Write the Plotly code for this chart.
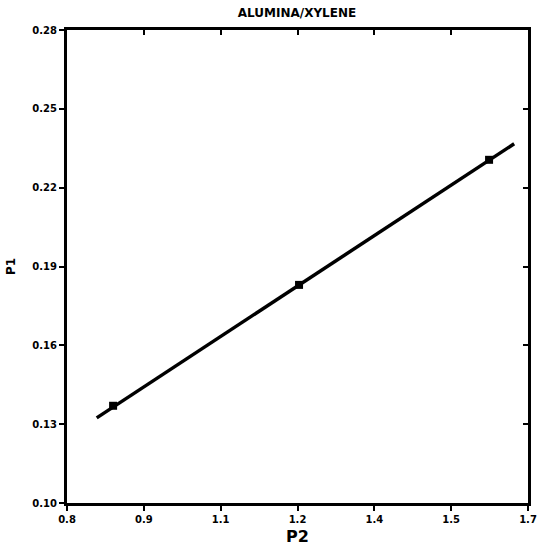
import plotly.graph_objects as go

# Data
p2_points = [0.890, 1.253, 1.624]
p1_points = [0.137, 0.183, 0.2306]
fit_p2 = [0.858, 1.673]
fit_p1 = [0.1324, 0.2367]

x_tickvals = [0.8, 0.95, 1.1, 1.25, 1.4, 1.55, 1.7]
x_ticktext = ["0.8", "0.9", "1.1", "1.2", "1.4", "1.5", "1.7"]
y_tickvals = [0.10, 0.13, 0.16, 0.19, 0.22, 0.25, 0.28]
y_ticktext = ["0.10", "0.13", "0.16", "0.19", "0.22", "0.25", "0.28"]

fig = go.Figure()
fig.add_trace(go.Scatter(x=fit_p2, y=fit_p1, mode="lines",
                         line=dict(color="black", width=3.5), showlegend=False))
fig.add_trace(go.Scatter(x=p2_points, y=p1_points, mode="markers",
                         marker=dict(symbol="square", size=8, color="black"),
                         showlegend=False))
# invisible trace for secondary (mirror) axes
fig.add_trace(go.Scatter(x=[0.8], y=[0.1], xaxis="x2", yaxis="y2", mode="markers",
                         marker=dict(opacity=0), showlegend=False, hoverinfo="skip"))

tickfont = dict(family="DejaVu Sans", size=10, color="black", weight="bold")
fig.update_layout(
    width=540, height=546,
    margin=dict(l=67, r=12, t=30, b=43),
    paper_bgcolor="white", plot_bgcolor="white",
    title=dict(text="ALUMINA/XYLENE", x=0.55, xanchor="center", y=0.985, yanchor="top",
               font=dict(family="DejaVu Sans", size=12, color="black", weight="bold")),
    xaxis=dict(range=[0.8, 1.7], tickvals=x_tickvals, ticktext=x_ticktext, automargin=False,
               showgrid=False, zeroline=False, showline=True, linecolor="black", linewidth=3,
               ticks="outside", ticklen=5, tickwidth=2, tickcolor="black",
               tickfont=tickfont),
    yaxis=dict(range=[0.10, 0.28], tickvals=y_tickvals, ticktext=y_ticktext, automargin=False,
               showgrid=False, zeroline=False, showline=True, linecolor="black", linewidth=3,
               ticks="outside", ticklen=5, tickwidth=2, tickcolor="black",
               tickfont=tickfont,
               title=dict(text="P1",
                          font=dict(family="DejaVu Sans", size=12, color="black", weight="bold"))),
    xaxis2=dict(range=[0.8, 1.7], tickvals=x_tickvals, overlaying="x", side="top", automargin=False,
                showgrid=False, zeroline=False, showline=True, linecolor="black", linewidth=3,
                ticks="inside", ticklen=5, tickwidth=2, tickcolor="black", showticklabels=False),
    yaxis2=dict(range=[0.10, 0.28], tickvals=y_tickvals, overlaying="y", side="right", automargin=False,
                showgrid=False, zeroline=False, showline=True, linecolor="black", linewidth=3,
                ticks="inside", ticklen=5, tickwidth=2, tickcolor="black", showticklabels=False),
    annotations=[dict(text="P2", xref="paper", yref="paper", x=0.499, y=-0.046,
                      xanchor="center", yanchor="top", showarrow=False,
                      font=dict(family="DejaVu Sans", size=16, color="black", weight="bold"))],
)

fig.write_html("out.html")
